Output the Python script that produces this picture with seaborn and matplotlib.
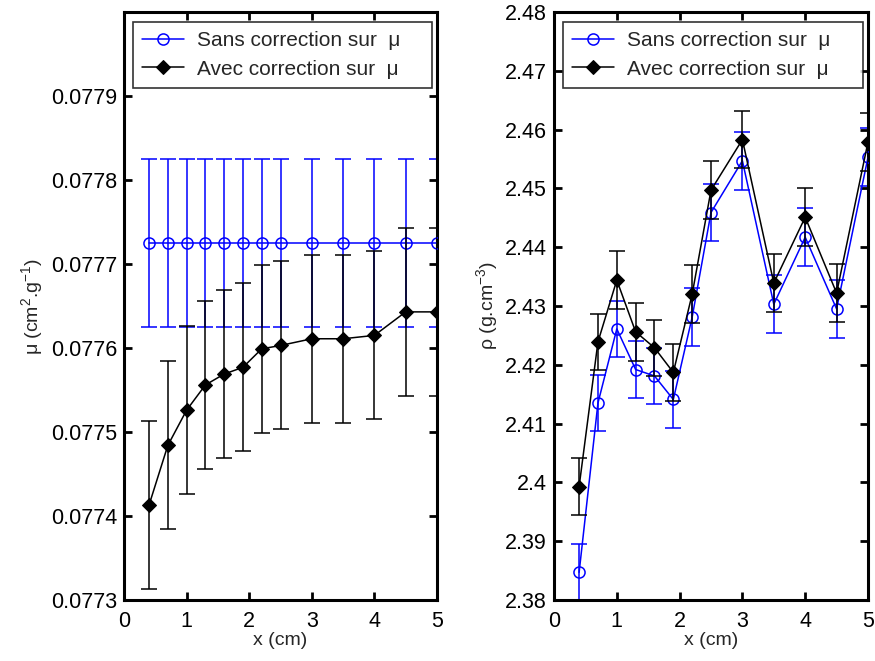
import numpy as np
import pandas as pd
import seaborn as sns
import matplotlib
matplotlib.use("Agg")
import matplotlib.pyplot as plt

sns.set_theme(style="white")
plt.rcParams['font.family'] = ['Liberation Sans', 'DejaVu Sans']
plt.rcParams['mathtext.fontset'] = 'custom'
plt.rcParams['mathtext.rm'] = 'Liberation Sans'
plt.rcParams['mathtext.it'] = 'Liberation Sans:italic'

# ---- data ----
x_pos = [0.4, 0.7, 1.0, 1.3, 1.6, 1.9, 2.2, 2.5, 3.0, 3.5, 4.0, 4.5, 5.0]

mu_sans = [0.077725] * 13
mu_sans_err = [0.0001] * 13
mu_avec = [0.077413, 0.077484, 0.077526, 0.077556, 0.077569, 0.077577,
           0.077599, 0.077603, 0.077611, 0.077611, 0.077615, 0.077643, 0.077643]
mu_avec_err = [0.0001] * 13

rho_sans = [2.3847, 2.4135, 2.4261, 2.4192, 2.4181, 2.4141, 2.4281,
            2.4459, 2.4547, 2.4303, 2.4417, 2.4295, 2.4553]
rho_sans_err = [0.0048, 0.0048, 0.0048, 0.0048, 0.0048, 0.0048, 0.0049,
                0.0049, 0.0049, 0.0049, 0.0049, 0.0049, 0.0049]
rho_avec = [2.3993, 2.4239, 2.4344, 2.4256, 2.4229, 2.4187, 2.4320,
            2.4497, 2.4583, 2.4339, 2.4451, 2.4322, 2.4579]
rho_avec_err = [0.0048, 0.0048, 0.0049, 0.0049, 0.0048, 0.0048, 0.0049,
                0.0049, 0.0049, 0.0049, 0.0049, 0.0049, 0.0049]

label_sans = "Sans correction sur  μ"
label_avec = "Avec correction sur  μ"

mu_ticks = [0.0773, 0.0774, 0.0775, 0.0776, 0.0777, 0.0778, 0.0779]
mu_ticklabels = ["0.0773", "0.0774", "0.0775", "0.0776", "0.0777", "0.0778", "0.0779"]
rho_ticks = [2.38, 2.39, 2.40, 2.41, 2.42, 2.43, 2.44, 2.45, 2.46, 2.47, 2.48]
rho_ticklabels = ["2.38", "2.39", "2.4", "2.41", "2.42", "2.43", "2.44", "2.45", "2.46", "2.47", "2.48"]
x_ticks = [0, 1, 2, 3, 4, 5]

W, H = 875, 661
fig = plt.figure(figsize=(W / 100, H / 100), dpi=100)
ax1 = fig.add_axes([124 / W, 1 - 600 / H, (437 - 124) / W, (600 - 12) / H])
ax2 = fig.add_axes([554 / W, 1 - 600 / H, (868 - 554) / W, (600 - 12) / H])

BLUE = "#0000ff"
TFS = 15.5   # tick labels
LFS = 15     # legend
AFS = 14     # axis labels


def draw(ax, y1, e1, y2, e2):
    df1 = pd.DataFrame({"x": x_pos, "y": y1})
    df2 = pd.DataFrame({"x": x_pos, "y": y2})
    ax.errorbar(x_pos, y1, yerr=e1, fmt='none', ecolor=BLUE, elinewidth=1.1,
                capsize=6, capthick=1.1, zorder=2)
    sns.lineplot(data=df1, x="x", y="y", ax=ax, color=BLUE, marker="o",
                 markersize=8, markerfacecolor="none", markeredgecolor=BLUE,
                 markeredgewidth=1.1, linewidth=1.1, label=label_sans, zorder=3,
                 estimator=None, sort=False)
    ax.errorbar(x_pos, y2, yerr=e2, fmt='none', ecolor="black", elinewidth=1.1,
                capsize=6, capthick=1.1, zorder=4)
    sns.lineplot(data=df2, x="x", y="y", ax=ax, color="black", marker="D",
                 markersize=7, markerfacecolor="black", markeredgecolor="black",
                 linewidth=1.1, label=label_avec, zorder=5,
                 estimator=None, sort=False)
    ax.set_xlim(0, 5)
    ax.set_xticks(x_ticks)
    ax.set_xticklabels([str(t) for t in x_ticks], fontsize=TFS)
    for s in ax.spines.values():
        s.set_linewidth(2.2)
        s.set_color("black")
    ax.tick_params(direction="in", length=6, width=2, top=True, right=True,
                   bottom=True, left=True, labelsize=TFS, pad=5, colors="black")
    ax.tick_params(axis="x", pad=8)
    ax.set_xlabel("x (cm)", fontsize=AFS, labelpad=0)
    ax.grid(False)
    leg = ax.legend(loc="upper left", bbox_to_anchor=(0.029, 0.983, 0.955, 0.0),
                    mode="expand", borderaxespad=0, fontsize=LFS, frameon=True,
                    fancybox=False, handlelength=2.0, handletextpad=0.6,
                    borderpad=0.45, labelspacing=0.45)
    leg.get_frame().set_edgecolor("black")
    leg.get_frame().set_linewidth(1.2)
    leg.set_zorder(10)


draw(ax1, mu_sans, mu_sans_err, mu_avec, mu_avec_err)
ax1.set_ylim(0.0773, 0.0780)
ax1.set_yticks(mu_ticks)
ax1.set_yticklabels(mu_ticklabels, fontsize=TFS)
ax1.set_ylabel("μ (cm$^{2}$.g$^{-1}$)", fontsize=AFS, labelpad=4)

draw(ax2, rho_sans, rho_sans_err, rho_avec, rho_avec_err)
ax2.set_ylim(2.38, 2.48)
ax2.set_yticks(rho_ticks)
ax2.set_yticklabels(rho_ticklabels, fontsize=TFS)
ax2.set_ylabel("ρ (g.cm$^{-3}$)", fontsize=AFS, labelpad=4)

fig.savefig("out.png", dpi=100, facecolor="white")
